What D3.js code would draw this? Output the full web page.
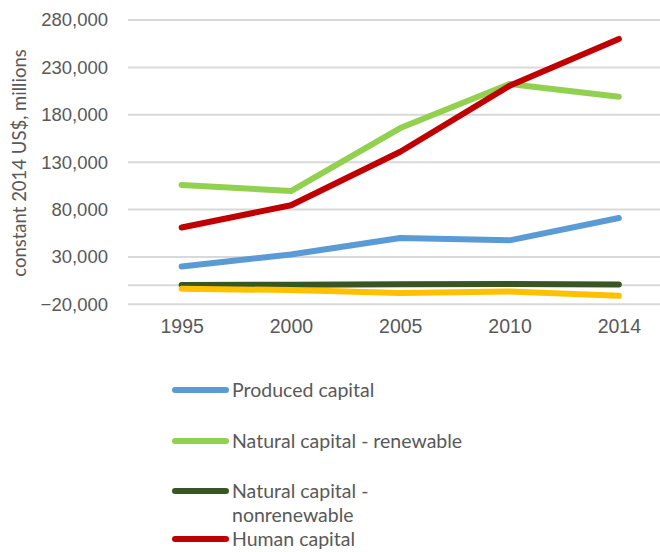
<!DOCTYPE html>
<html>
<head>
<meta charset="utf-8">
<script src="https://cdn.jsdelivr.net/npm/d3@7"></script>
<style>
  html, body { margin: 0; padding: 0; background: #fff; }
  svg { display: block; font-family: Lato, "Open Sans", sans-serif; }
</style>
</head>
<body>
<svg id="chart" width="660" height="552"></svg>
<script>
// Years on the category axis
const years = ["1995", "2000", "2005", "2010", "2014"];

// Wealth components, constant 2014 US$, millions
const producedCapital      = [20000, 32500, 50000, 47500, 71000];
const naturalRenewable     = [106000, 99500, 166000, 212500, 199000];
const naturalNonrenewable  = [300, 600, 1200, 1300, 1000];
const humanCapital         = [61000, 84500, 141000, 210500, 260000];
const netForeignAssets     = [-3500, -5000, -8000, -6500, -11000];

const seriesNames = [
  "Produced capital",
  "Natural capital - renewable",
  "Natural capital - nonrenewable",
  "Human capital",
  "Net foreign assets"
];
const seriesColors = ["#5b9bd5", "#92d050", "#375623", "#c00000", "#ffc000"];

// Value-axis ticks
const yTicks = [-20000, 30000, 80000, 130000, 180000, 230000, 280000];

const seriesValues = [producedCapital, naturalRenewable, naturalNonrenewable, humanCapital, netForeignAssets];
const series = seriesNames.map((name, i) => ({
  name, color: seriesColors[i],
  values: years.map((y, j) => ({ year: y, value: seriesValues[i][j] }))
}));

const svg = d3.select("#chart");
const textColor = "#595959";
const gridColor = "#d9d9d9";

const x = d3.scalePoint().domain(years).range([127, 673.5]).padding(0.5);
const y = d3.scaleLinear().domain([-20000, 280000]).range([304.3, 20]);

// Value-axis labels
const yAxis = d3.axisLeft(y).tickValues(yTicks).tickFormat(d3.format(",")).tickSize(0).tickPadding(20);
const yg = svg.append("g").attr("transform", "translate(128,0)").call(yAxis);
yg.select(".domain").remove();
yg.selectAll(".tick line").remove();
yg.selectAll(".tick text").attr("fill", textColor).attr("font-size", 18.5);

// Horizontal gridlines
svg.append("g").selectAll("line").data(yTicks).join("line")
  .attr("x1", 128).attr("x2", 660)
  .attr("y1", d => y(d)).attr("y2", d => y(d))
  .attr("stroke", gridColor).attr("stroke-width", 2);

// Category axis line drawn at zero
svg.append("line")
  .attr("x1", 128).attr("x2", 660)
  .attr("y1", y(0)).attr("y2", y(0))
  .attr("stroke", gridColor).attr("stroke-width", 2);

// Year labels
const xAxis = d3.axisBottom(x).tickSize(0).tickPadding(0);
const xg = svg.append("g").attr("transform", "translate(0,319)").call(xAxis);
xg.select(".domain").remove();
xg.selectAll(".tick text").attr("fill", textColor).attr("font-size", 19.5).attr("dy", "0.71em");

// Value-axis title
svg.append("text")
  .attr("transform", "translate(26,163) rotate(-90)")
  .attr("text-anchor", "middle")
  .attr("fill", textColor)
  .attr("font-size", 18.5)
  .text("constant 2014 US$, millions");

// Series lines
const line = d3.line().x(d => x(d.year)).y(d => y(d.value));
svg.append("g").selectAll("path").data(series).join("path")
  .attr("d", d => line(d.values))
  .attr("fill", "none")
  .attr("stroke", d => d.color)
  .attr("stroke-width", 6)
  .attr("stroke-linecap", "round")
  .attr("stroke-linejoin", "round");

// Legend (vertical, below the plot); only the rows that fit the frame
const legendRows = [390, 441, 491, 539];
const legendLines = [["Produced capital"], ["Natural capital - renewable"], ["Natural capital -", "nonrenewable"], ["Human capital"]];
const lg = svg.append("g").selectAll("g").data(series.slice(0, legendRows.length)).join("g")
  .attr("transform", (d, i) => `translate(0,${legendRows[i]})`);
lg.append("line")
  .attr("x1", 175).attr("x2", 226)
  .attr("y1", 0).attr("y2", 0)
  .attr("stroke", d => d.color).attr("stroke-width", 6).attr("stroke-linecap", "round");
lg.append("text")
  .attr("x", 232)
  .attr("fill", textColor)
  .attr("font-size", 19.5)
  .selectAll("tspan").data((d, i) => legendLines[i]).join("tspan")
  .attr("x", 232)
  .attr("y", (t, k) => k * 24)
  .attr("dy", "0.35em")
  .text(t => t);
</script>
</body>
</html>
